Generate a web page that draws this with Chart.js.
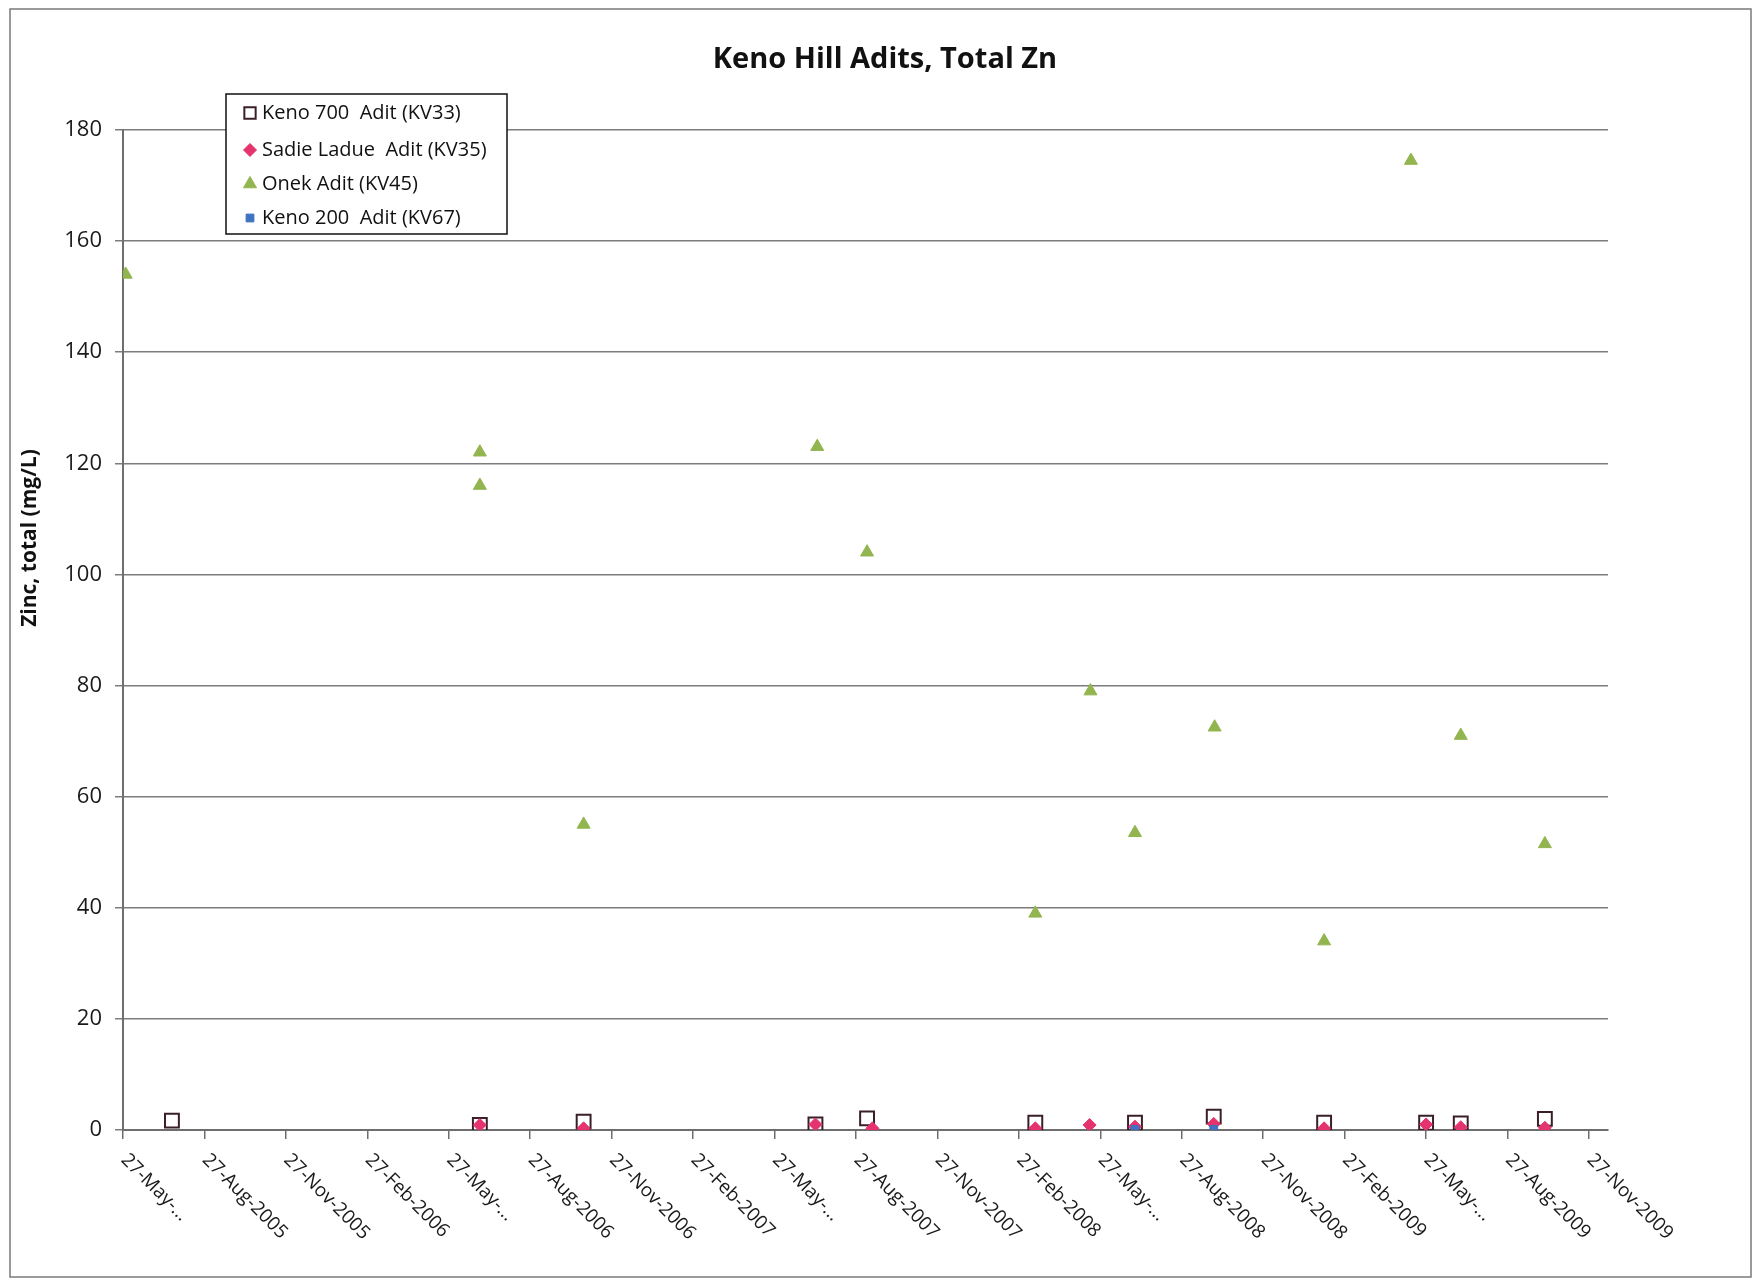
<!DOCTYPE html>
<html>
<head>
<meta charset="utf-8">
<title>Keno Hill Adits, Total Zn</title>
<script src="https://cdn.jsdelivr.net/npm/chart.js@4.4.1/dist/chart.umd.min.js"></script>
<style>
  html, body { margin: 0; padding: 0; background: #fff; }
  #wrap { width: 1758px; height: 1280px; }
</style>
</head>
<body>
<div id="wrap"><canvas id="chart" width="1758" height="1280"></canvas></div>
<script>
// axis ticks every 3 months from 27-May-2005
const tickLabels = [
  '27-May-...', '27-Aug-2005', '27-Nov-2005', '27-Feb-2006', '27-May-...', '27-Aug-2006',
  '27-Nov-2006', '27-Feb-2007', '27-May-...', '27-Aug-2007', '27-Nov-2007', '27-Feb-2008',
  '27-May-...', '27-Aug-2008', '27-Nov-2008', '27-Feb-2009', '27-May-...', '27-Aug-2009', '27-Nov-2009'
];
const yTicks = [0, 20, 40, 60, 80, 100, 120, 140, 160, 180];

const keno700Dates = ['2005-07-21', '2006-07-01', '2006-10-26', '2007-07-12', '2007-09-09', '2008-03-15',
  '2008-07-05', '2008-10-02', '2009-02-04', '2009-05-27', '2009-07-05', '2009-10-08'];
const keno700Zn = [1.7, 0.9, 1.5, 1.0, 2.1, 1.3, 1.3, 2.4, 1.3, 1.3, 1.2, 2.0];

const sadieDates = ['2006-07-01', '2006-10-26', '2007-07-12', '2007-09-15', '2008-03-15', '2008-05-15',
  '2008-07-05', '2008-10-02', '2009-02-04', '2009-05-27', '2009-07-05', '2009-10-08'];
const sadieZn = [0.9, 0.3, 1.0, 0.3, 0.3, 0.9, 0.6, 1.1, 0.3, 1.0, 0.5, 0.4];

const onekDates = ['2005-05-30', '2006-07-01', '2006-07-01', '2006-10-26', '2007-07-14', '2007-09-09', '2008-03-15',
  '2008-05-16', '2008-07-05', '2008-10-03', '2009-02-04', '2009-05-10', '2009-07-05', '2009-10-08'];
const onekZn = [154, 122, 116, 55, 123, 104, 39, 79, 53.5, 72.5, 34, 174.5, 71, 51.5];

const keno200Dates = ['2008-07-05', '2008-10-02'];
const keno200Zn = [0.1, 0.1];

const FONT = "'Open Sans', 'DejaVu Sans', sans-serif";

// months after 27-May-2005 (the first axis tick)
function monthsFromStart(d) {
  const [y, m, day] = d.split('-').map(Number);
  return (y - 2005) * 12 + (m - 5) + (day - 27) / 30.4;
}
function points(dates, vals) {
  return dates.map((d, i) => ({ x: monthsFromStart(d), y: vals[i] }));
}

const series = [
  { label: 'Keno 700  Adit (KV33)', data: points(keno700Dates, keno700Zn), pointStyle: 'rect', pointRadius: 9.8,
    backgroundColor: 'rgba(255,255,255,0)', borderColor: '#3a1f2a', pointBorderWidth: 2, order: 4 },
  { label: 'Sadie Ladue  Adit (KV35)', data: points(sadieDates, sadieZn), pointStyle: 'rectRot', pointRadius: 6.5,
    backgroundColor: '#e5336d', borderColor: '#e5336d', pointBorderWidth: 1, order: 3 },
  { label: 'Onek Adit (KV45)', data: points(onekDates, onekZn), pointStyle: 'triangle', pointRadius: 7.5,
    backgroundColor: '#92b54f', borderColor: '#92b54f', pointBorderWidth: 1, order: 2 },
  { label: 'Keno 200  Adit (KV67)', data: points(keno200Dates, keno200Zn), pointStyle: 'rect', pointRadius: 5.5,
    backgroundColor: '#3f72c0', borderColor: '#3f72c0', pointBorderWidth: 1, order: 1 }
];

const decorations = {
  id: 'decorations',
  beforeDraw(chart) {
    const c = chart.ctx;
    c.save();
    c.fillStyle = '#ffffff';
    c.fillRect(0, 0, chart.width, chart.height);
    c.strokeStyle = '#7a7a7a';
    c.lineWidth = 1.5;
    c.strokeRect(10, 9, 1741, 1268);
    c.restore();
  },
  afterDraw(chart) {
    const c = chart.ctx;
    const x = chart.scales.x;
    const area = chart.chartArea;
    c.save();
    // title
    c.fillStyle = '#111';
    c.font = 'bold 29px ' + FONT;
    c.textAlign = 'center';
    c.textBaseline = 'middle';
    c.fillText('Keno Hill Adits, Total Zn', 885, 60);
    // y axis title
    c.save();
    c.translate(30, 538);
    c.rotate(-Math.PI / 2);
    c.font = 'bold 21px ' + FONT;
    c.fillText('Zinc, total (mg/L)', 0, 0);
    c.restore();
    // slanted date labels
    c.font = '19px ' + FONT;
    c.textAlign = 'left';
    c.fillStyle = '#1a1a1a';
    tickLabels.forEach((t, i) => {
      const px = x.getPixelForValue(i * 3);
      c.save();
      c.translate(px + 1, area.bottom + 27);
      c.rotate(Math.PI / 4);
      c.fillText(t, 0, 0);
      c.restore();
    });
    // legend box
    c.fillStyle = '#fff';
    c.fillRect(226, 94, 281, 140);
    c.strokeStyle = '#111';
    c.lineWidth = 1.5;
    c.strokeRect(226, 94, 281, 140);
    const rows = [113, 150, 184, 218];
    c.font = '20px ' + FONT;
    c.textAlign = 'left';
    c.textBaseline = 'middle';
    series.forEach((s, i) => {
      c.fillStyle = s.backgroundColor;
      c.strokeStyle = s.borderColor;
      c.lineWidth = s.pointBorderWidth;
      Chart.helpers.drawPoint(c, { pointStyle: s.pointStyle, radius: Math.min(s.pointRadius, 8), borderWidth: s.pointBorderWidth }, 250, rows[i]);
      c.fillStyle = '#111';
      c.fillText(s.label, 262, rows[i]);
    });
    c.restore();
  }
};

new Chart(document.getElementById('chart'), {
  type: 'scatter',
  data: { datasets: series },
  options: {
    responsive: false,
    animation: false,
    layout: { padding: { left: 0, right: 150, top: 130, bottom: 0 } },
    plugins: { legend: { display: false }, tooltip: { enabled: false }, title: { display: false } },
    scales: {
      x: {
        type: 'linear',
        min: 0,
        max: 54.7,
        afterBuildTicks: s => { s.ticks = tickLabels.map((t, i) => ({ value: i * 3 })); },
        afterFit: s => { s.height = 150; },
        ticks: { display: false },
        grid: { drawOnChartArea: false, tickLength: 9, color: '#6e6e6e', lineWidth: 1.5 },
        border: { color: '#6e6e6e', width: 2 }
      },
      y: {
        min: 0,
        max: 180,
        afterBuildTicks: s => { s.ticks = yTicks.map(v => ({ value: v })); },
        afterFit: s => { s.width = 123; },
        ticks: { font: { family: FONT, size: 22 }, color: '#1a1a1a', padding: 13 },
        grid: { color: '#7c7c7c', lineWidth: 1.5, tickLength: 8 },
        border: { color: '#6e6e6e', width: 2 }
      }
    }
  },
  plugins: [decorations]
});
</script>
</body>
</html>
